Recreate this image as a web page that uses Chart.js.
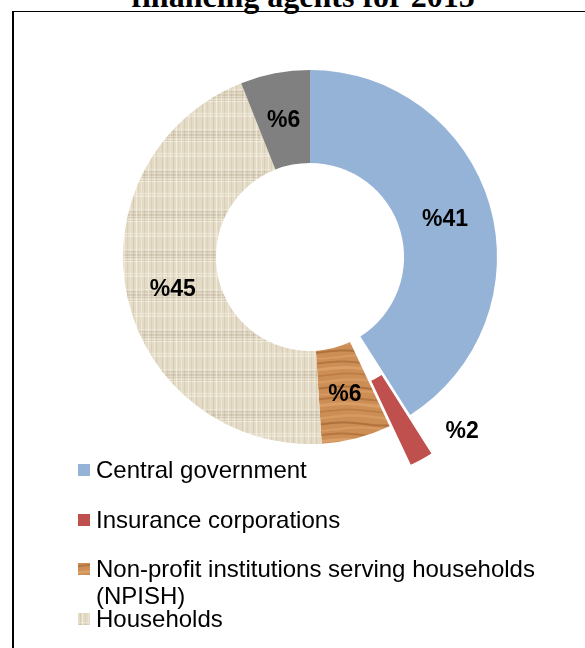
<!DOCTYPE html>
<html>
<head>
<meta charset="utf-8">
<script src="https://cdn.jsdelivr.net/npm/chart.js@4.4.1/dist/chart.umd.min.js"></script>
<style>
  html, body { margin: 0; padding: 0; background: #fff; }
  body { width: 585px; height: 648px; overflow: hidden; position: relative; }
  #title { position: absolute; left: 0; top: -20px; width: 606px; text-align: center;
           font: bold 32px/32px "Liberation Serif", "Times New Roman", serif; color: #000; white-space: nowrap; }
  #frame { position: absolute; left: 12px; top: 11px; width: 600px; height: 700px;
           border-left: 2.5px solid #000; border-top: 1.5px solid #000; }
  #chart { position: absolute; left: 0; top: 0; }
  .item { position: absolute; left: 78px; width: 470px; }
  .box { position: absolute; left: 0; top: 8px; width: 12px; height: 12px; }
  .txt { position: absolute; left: 18px; top: 0; width: 450px;
         font: 24px/27px "Liberation Sans", Arial, sans-serif; color: #000; }
</style>
</head>
<body>
<div id="title">financing agents for 2015</div>
<div id="frame"></div>
<canvas id="chart" width="585" height="648"></canvas>
<div id="legend"></div>
<script>
// financing agents, share of spending (%)
var labels = ['Central government', 'Insurance corporations',
              'Non-profit institutions serving households (NPISH)', 'Households', 'Other'];
var shares = [41, 2, 6, 45, 6];

// textures used by Excel for two of the slices
function linenTile() {
    var c = document.createElement('canvas');
    c.width = 40; c.height = 40;
    var g = c.getContext('2d');
    g.fillStyle = '#E4DBC7';
    g.fillRect(0, 0, 40, 40);
    var dark = [[2, 0.16], [7, 0.1], [13, 0.2], [18, 0.08], [24, 0.15], [31, 0.12], [36, 0.18]];
    var light = [[4, 0.45], [10, 0.3], [16, 0.5], [21, 0.35], [28, 0.45], [34, 0.3]];
    dark.forEach(function (d) {
        g.fillStyle = 'rgba(140,126,98,' + d[1] + ')';
        g.fillRect(d[0], 0, 1, 40);
        g.fillRect(0, (d[0] * 7 + 3) % 40, 40, 1);
    });
    light.forEach(function (d) {
        g.fillStyle = 'rgba(252,249,240,' + d[1] + ')';
        g.fillRect(d[0], 0, 1, 40);
        g.fillRect(0, (d[0] * 11 + 5) % 40, 40, 1);
    });
    return c;
}

function woodTile() {
    var c = document.createElement('canvas');
    c.width = 80; c.height = 36;
    var g = c.getContext('2d');
    g.fillStyle = '#CD8E55';
    g.fillRect(0, 0, 80, 36);
    var streaks = [[3, 'rgba(150,90,40,0.45)', 2], [9, 'rgba(230,175,120,0.5)', 3],
                   [15, 'rgba(160,95,45,0.4)', 1.5], [21, 'rgba(225,170,115,0.45)', 2.5],
                   [28, 'rgba(145,85,38,0.5)', 2], [33, 'rgba(228,172,118,0.4)', 2]];
    streaks.forEach(function (s) {
        g.strokeStyle = s[1];
        g.lineWidth = s[2];
        g.beginPath();
        for (var x = 0; x <= 80; x += 4) {
            var y = s[0] + Math.sin(x / 80 * 2 * Math.PI + s[0]) * 1.5;
            if (x == 0) g.moveTo(x, y); else g.lineTo(x, y);
        }
        g.stroke();
    });
    return c;
}

var ctx = document.getElementById('chart').getContext('2d');
var wood = woodTile();
var linen = linenTile();
var fills = ['#95B3D7', '#C0504D', ctx.createPattern(wood, 'repeat'), ctx.createPattern(linen, 'repeat'), '#808080'];
var swatches = ['#95B3D7', '#C0504D', 'url(' + wood.toDataURL() + ')', 'url(' + linen.toDataURL() + ')', '#808080'];

// exploded slice: move the whole arc outwards instead of Chart.js' offset
var pullOut = {
    id: 'pullOut',
    beforeDatasetsDraw: function (chart, args, opts) {
        chart.getDatasetMeta(0).data.forEach(function (arc, i) {
            if (opts.distance[i]) arc.hidden = true;
        });
    },
    afterDatasetsDraw: function (chart, args, opts) {
        var c = chart.ctx;
        chart.getDatasetMeta(0).data.forEach(function (arc, i) {
            if (!opts.distance[i]) return;
            arc.hidden = false;
            var mid = (arc.startAngle + arc.endAngle) / 2;
            c.save();
            c.translate(Math.cos(mid) * opts.distance[i], Math.sin(mid) * opts.distance[i]);
            arc.draw(c);
            c.restore();
        });
    }
};

var sliceLabels = {
    id: 'sliceLabels',
    afterDatasetsDraw: function (chart, args, opts) {
        var c = chart.ctx;
        var values = chart.data.datasets[0].data;
        c.save();
        c.font = opts.font;
        c.fillStyle = '#000';
        c.textAlign = 'center';
        c.textBaseline = 'alphabetic';
        chart.getDatasetMeta(0).data.forEach(function (arc, i) {
            var p = arc.getProps(['x', 'y', 'startAngle', 'endAngle', 'innerRadius', 'outerRadius']);
            var a = (p.startAngle + p.endAngle) / 2;
            var r = (p.innerRadius + p.outerRadius) / 2;
            if (opts.outside[i]) {
                r = p.outerRadius + opts.outsideGap;
                a += opts.outsideTurn;
            }
            c.fillText('%' + values[i], p.x + Math.cos(a) * r, p.y + Math.sin(a) * r + 8);
        });
        c.restore();
    }
};

var myChart = new Chart(ctx, {
    type: 'doughnut',
    data: {
        labels: labels,
        datasets: [{
            data: shares,
            backgroundColor: fills,
            borderWidth: 0
        }]
    },
    options: {
        responsive: false,
        animation: false,
        devicePixelRatio: 1,
        radius: 187,
        cutout: '50.3%',
        layout: { padding: { left: 35, right: 0, top: 0, bottom: 134 } },
        events: [],
        plugins: {
            legend: { display: false },
            title: { display: false },
            tooltip: { enabled: false },
            pullOut: { distance: [0, 44, 0, 0, 0] },
            sliceLabels: {
                font: 'bold 23px "Liberation Sans", Arial, sans-serif',
                outside: [false, true, false, false, false],
                outsideGap: 43,
                outsideTurn: -0.22
            }
        }
    },
    plugins: [pullOut, sliceLabels]
});

// legend, one row per category (the last one falls below the picture)
var legend = document.getElementById('legend');
labels.forEach(function (name, i) {
    var item = document.createElement('div');
    item.className = 'item';
    item.style.top = (456 + i * 49.5) + 'px';
    var box = document.createElement('div');
    box.className = 'box';
    box.style.background = swatches[i];
    var txt = document.createElement('div');
    txt.className = 'txt';
    txt.textContent = name;
    item.appendChild(box);
    item.appendChild(txt);
    legend.appendChild(item);
});
</script>
</body>
</html>
